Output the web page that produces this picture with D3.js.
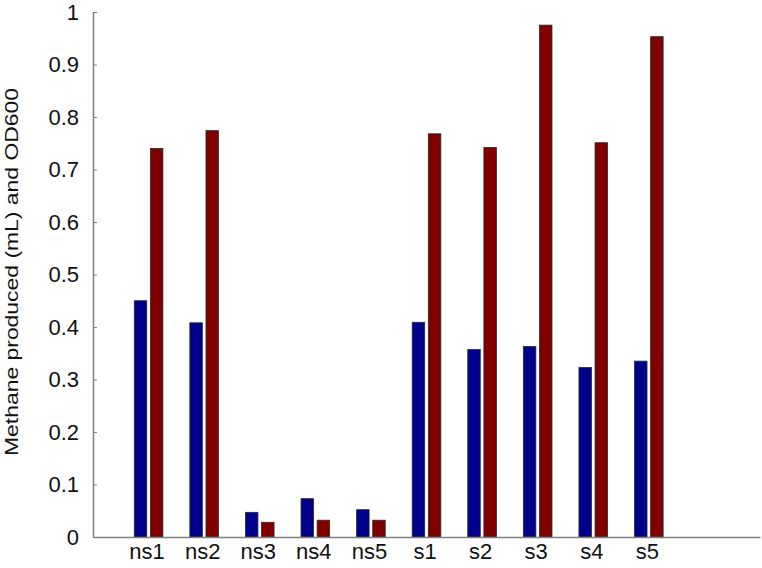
<!DOCTYPE html>
<html>
<head>
<meta charset="utf-8">
<script src="https://cdn.jsdelivr.net/npm/d3@7"></script>
<style>
  html, body { margin: 0; padding: 0; background: #fff; }
  svg { display: block; font-family: "Liberation Sans", Arial, Helvetica, sans-serif; }
</style>
</head>
<body>
<svg id="chart" width="762" height="568"></svg>
<script>
const categories = ["ns1", "ns2", "ns3", "ns4", "ns5", "s1", "s2", "s3", "s4", "s5"];
const methane = [0.450, 0.408, 0.047, 0.073, 0.052, 0.409, 0.357, 0.363, 0.323, 0.335];
const od600 = [0.740, 0.774, 0.028, 0.032, 0.032, 0.768, 0.742, 0.975, 0.751, 0.953];
const yTicks = [0, 0.1, 0.2, 0.3, 0.4, 0.5, 0.6, 0.7, 0.8, 0.9, 1];
const yTickLabels = ["0", "0.1", "0.2", "0.3", "0.4", "0.5", "0.6", "0.7", "0.8", "0.9", "1"];
const yLabel = "Methane produced (mL) and OD600";

(function () {
const svg = d3.select("#chart");
const mLeft = 93, mRight = 760, mTop = 12, mBottom = 537;

const x = d3.scaleLinear().domain([0, 12]).range([mLeft, mRight]);
const y = d3.scaleLinear().domain([0, 1]).range([mBottom, mTop]);

const barW = 0.225, off = 0.145;

const series = [
  { values: methane, color: "#00008c", shift: -off },
  { values: od600, color: "#800000", shift: off }
];

series.forEach(s => {
  svg.append("g").selectAll("rect")
    .data(s.values)
    .join("rect")
    .attr("x", (d, i) => x(i + 1 + s.shift - barW / 2))
    .attr("width", x(barW) - x(0))
    .attr("y", d => y(d))
    .attr("height", d => y(0) - y(d))
    .attr("fill", s.color)
    .attr("stroke", "#2a2a2a")
    .attr("stroke-width", 0.8);
});

// Y axis
const yAxis = d3.axisLeft(y)
  .tickValues(yTicks)
  .tickFormat((d, i) => yTickLabels[i])
  .tickSizeInner(-4)
  .tickSizeOuter(0)
  .tickPadding(14);
const gy = svg.append("g").attr("transform", `translate(${mLeft},0)`).call(yAxis);
gy.select(".domain").attr("stroke", "#808080").attr("stroke-width", 1.5);
gy.selectAll(".tick line").attr("stroke", "#808080");
gy.selectAll(".tick text").attr("font-size", 22).attr("fill", "#111")
  .attr("font-family", "'Liberation Sans', Arial, sans-serif");

// X axis
const xAxis = d3.axisBottom(x)
  .tickValues(d3.range(1, categories.length + 1))
  .tickFormat((d, i) => categories[i])
  .tickSize(0)
  .tickPadding(6);
const gx = svg.append("g").attr("transform", `translate(0,${mBottom})`).call(xAxis);
gx.select(".domain").attr("stroke", "#808080").attr("stroke-width", 1.5);
gx.selectAll(".tick text").attr("font-size", 22).attr("fill", "#111")
  .attr("dx", -2)
  .attr("font-family", "'Liberation Sans', Arial, sans-serif");

// Y label
svg.append("text")
  .attr("transform", `translate(18,272) rotate(-90)`)
  .attr("text-anchor", "middle")
  .attr("font-size", 19)
  .attr("textLength", 368)
  .attr("lengthAdjust", "spacingAndGlyphs")
  .attr("fill", "#111")
  .text(yLabel);
})();
</script>
</body>
</html>
